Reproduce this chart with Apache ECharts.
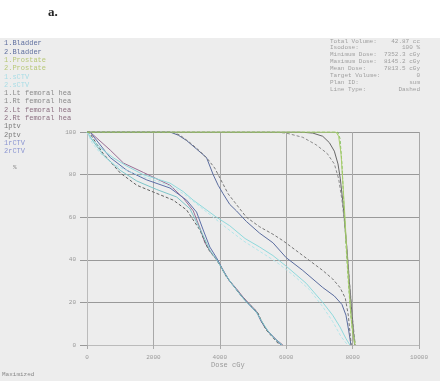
<!DOCTYPE html>
<html>
<head>
<meta charset="utf-8">
<script src="https://cdn.jsdelivr.net/npm/echarts@6/dist/echarts.min.js"></script>
<style>
html,body{margin:0;padding:0;background:#fff;}
#c{width:440px;height:381px;}
</style>
</head>
<body>
<div id="c"></div>
<script>
// ---- data (dose cGy, volume %) ----
var xTicks = [0, 2000, 4000, 6000, 8000, 10000];
var yTicks = [0, 20, 40, 60, 80, 100];

var prostate1 = [[0,100],[7500,100],[7580,98],[7650,90],[7700,78],[7770,60],[7830,42],[7900,25],[7960,12],[8020,4],[8070,0]];
var prostate2 = [[0,100],[7550,100],[7620,97],[7680,85],[7740,65],[7800,47],[7870,30],[7940,15],[8000,6],[8090,0]];
var ptv1 = [[0,100],[6400,100],[6800,99.5],[7100,98],[7300,95],[7450,91],[7560,85],[7630,78],[7700,68],[7760,58],[7830,45],[7900,30],[7980,15],[8060,0]];
var ptv2 = [[0,100],[5600,100],[6000,99.5],[6500,97.5],[6900,94],[7230,90],[7450,85],[7580,78],[7680,68],[7760,57],[7840,43],[7920,27],[8000,12],[8080,0]];
var bladder1 = [[0,100],[2500,100],[2750,98.5],[3000,96],[3300,92],[3600,88],[3800,80],[3950,75],[4100,71],[4300,66],[4500,63],[4800,58],[5200,52.5],[5600,48],[6000,41],[6500,35],[7100,27],[7450,23],[7680,19],[7800,14],[7880,7],[7950,0]];
var bladder2 = [[0,100],[2550,100],[2800,98.5],[3100,95],[3400,91],[3650,87],[3850,83],[4050,77],[4250,71],[4450,67],[4800,60],[5200,55.5],[5600,52],[5900,49],[6500,42],[7100,35],[7400,31],[7620,27],[7780,22],[7870,14],[7920,6],[7960,0]];
var ctv1 = [[0,100],[180,96],[450,92],[780,88],[1200,84],[1690,80],[2100,78],[2500,76],[2900,72],[3200,68],[3550,64],[3900,60],[4300,56],[4760,50],[5200,46],[5600,42],[6000,37],[6600,29],[7100,20],[7400,14],[7620,8.5],[7800,3],[7920,0]];
var ctv2 = [[0,100],[150,95],[400,90],[700,86],[1100,82.5],[1600,79.5],[2100,77],[2600,74],[3000,70],[3400,65],[3800,60],[4200,55],[4700,49],[5200,44],[5700,39],[6200,33],[6700,26],[7100,18],[7400,11],[7650,4],[7850,0]];
var femLt1 = [[0,100],[90,100],[700,91.5],[1100,85.4],[1700,81],[2500,75],[2900,69],[3200,63],[3400,55],[3550,48],[3750,43],[3950,39.5],[4100,35],[4300,30],[4500,26.5],[4700,22.5],[4850,20],[5000,17.5],[5100,16],[5200,12.5],[5350,8.5],[5500,5.5],[5700,2.5],[5900,0]];
var femRt1 = [[0,100],[90,100],[700,88],[1200,82],[1800,77.5],[2500,73.7],[3000,68],[3300,62.4],[3500,54],[3700,46],[3900,41],[4050,36.5],[4250,31],[4450,27],[4650,23],[4850,19.5],[5000,17],[5150,14.5],[5250,11],[5400,7.5],[5600,4],[5850,0]];
var femLt2 = [[0,100],[100,99],[480,90],[1000,80.8],[1500,75],[2000,71.8],[2600,68],[3000,63.4],[3400,54],[3650,45],[3900,40],[4000,37.5],[4200,32],[4400,28],[4600,24],[4800,20.5],[5000,17.5],[5150,15],[5250,11.5],[5400,7],[5600,3.5],[5800,0]];
var femRt2 = [[0,100],[120,97],[500,89],[1000,82],[1500,77],[2100,73],[2700,69.5],[3100,64],[3450,53],[3700,44.5],[3950,39],[4150,33.5],[4350,29],[4550,25],[4750,21],[4950,18],[5100,15.5],[5250,11.5],[5450,6.5],[5650,3],[5880,0]];

var legendNames = ["1.Bladder","2.Bladder","1.Prostate","2.Prostate","1.sCTV","2.sCTV","1.Lt femoral hea","1.Rt femoral hea","2.Lt femoral hea","2.Rt femoral hea","1ptv","2ptv","1rCTV","2rCTV"];
var legendColors = ["#5f6f9f","#5f6f9f","#b8c878","#b8c878","#a9dde6","#a9dde6","#8a8a8a","#8a8a8a","#8c6f80","#8c6f80","#7a7a7a","#7a7a7a","#8c96d2","#8c96d2"];

var infoLabels = ["Total Volume:","Isodose:","Minimum Dose:","Maximum Dose:","Mean Dose:","Target Volume:","Plan ID:","Line Type:"];
var infoValues = ["42.87 cc","100 %","7352.3 cGy","8145.2 cGy","7813.5 cGy","0","sum","Dashed"];

var chart = echarts.init(document.getElementById('c'), null, {renderer:'canvas'});
var mono = "'Liberation Mono', 'DejaVu Sans Mono', monospace";

function line(name, data, color, dashed, width){
  return {
    name: name, type: 'line', data: data, showSymbol: false, smooth: false,
    lineStyle: {color: color, width: width || 1, type: dashed ? [3,2] : 'solid'},
    itemStyle: {color: color}, z: 3
  };
}

var graphics = [
  {type:'rect', shape:{x:0,y:38,width:440,height:343}, style:{fill:'#ededed'}, z:-10, silent:true},
  {type:'text', left:48, top:6, style:{text:'a.', font:'bold 13px "Liberation Serif", serif', fill:'#222'}},
  {type:'text', left:211, top:362, style:{text:'Dose cGy', font:'7px '+mono, fill:'#999'}},
  {type:'text', left:2, top:371, style:{text:'Maximized', font:'6px '+mono, fill:'#888'}},
  {type:'text', left:13, top:164, style:{text:'%', font:'6px '+mono, fill:'#888'}}
];
legendNames.forEach(function(n, i){
  graphics.push({type:'text', left:4, top:40 + i*8.3, style:{text:n, font:'7px '+mono, fill:legendColors[i]}});
});
infoLabels.forEach(function(n, i){
  graphics.push({type:'text', left:330, top:38 + i*6.9, style:{text:n, font:'6px '+mono, fill:'#a0a0a0'}});
  graphics.push({type:'text', right:20, top:38 + i*6.9, style:{text:infoValues[i], font:'6px '+mono, fill:'#a0a0a0', align:'right'}});
});

chart.setOption({
  animation: false,
  backgroundColor: '#ffffff',
  graphic: graphics,
  grid: {left:87, right:21, top:132, bottom:36, containLabel:false},
  xAxis: {
    type:'value', min:0, max:10000, interval:2000,
    axisLine:{show:true, lineStyle:{color:'#bbb'}},
    axisTick:{show:true, length:4, lineStyle:{color:'#aaa'}},
    axisLabel:{fontSize:6, color:'#999', margin:9, fontFamily:mono, formatter:function(v){return String(v);}},
    splitLine:{show:true, lineStyle:{color:'#a8a8a8', width:1}}
  },
  yAxis: {
    type:'value', min:0, max:100, interval:20,
    axisLine:{show:true, lineStyle:{color:'#bbb'}},
    axisTick:{show:true, length:7, lineStyle:{color:'#999'}},
    axisLabel:{fontSize:6, color:'#999', margin:11, fontFamily:mono, formatter:function(v){return String(v);}},
    splitLine:{show:true, lineStyle:{color:'#999', width:1}}
  },
  series: [
    line('1.Lt femoral hea', femLt1, '#9a6f95', false),
    line('1.Rt femoral hea', femRt1, '#5c6fa8', false),
    line('2.Lt femoral hea', femLt2, '#606060', true),
    line('2.Rt femoral hea', femRt2, '#7cc4c8', false),
    line('1.sCTV', ctv1, '#8fd9dc', false),
    line('2.sCTV', ctv2, '#b3e6ea', true),
    line('1.Bladder', bladder1, '#5a6c9e', false),
    line('2.Bladder', bladder2, '#777777', true),
    line('1ptv', ptv1, '#666666', false),
    line('2ptv', ptv2, '#8a8a8a', true),
    line('2.Prostate', prostate2, '#7fbf5a', true),
    line('1.Prostate', prostate1, '#a8cc6a', false)
  ]
});
</script>
</body>
</html>
